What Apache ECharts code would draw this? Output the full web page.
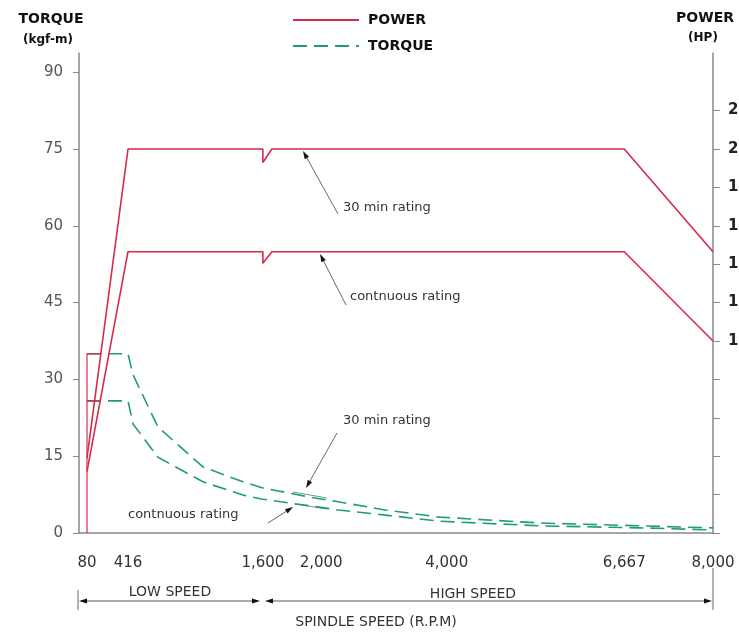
<!DOCTYPE html>
<html><head><meta charset="utf-8">
<script src="https://cdn.jsdelivr.net/npm/echarts@6/dist/echarts.min.js"></script>
<style>html,body{margin:0;padding:0;background:#fff}#c{width:739px;height:632px}</style>
</head><body><div id="c"></div>
<script>
// ---- data ----
const rpmTicks = [80, 416, 1600, 2000, 4000, 6667, 8000];
const rpmTickLabels = ['80', '416', '1,600', '2,000', '4,000', '6,667', '8,000'];
const torqueTicks = [0, 15, 30, 45, 60, 75, 90];
const powerTicks = [0, 2, 4, 6, 8, 10, 12, 14, 16, 18, 20, 22];
const powerLabelTicks = [10, 12, 14, 16, 18, 20, 22];

const power30Rpm = [80, 416, 1600, 1600, 1662, 6667, 8000];
const power30Hp = [3.9, 20.0, 20.0, 19.3, 20.0, 20.0, 14.65];
const powerContRpm = [80, 416, 1600, 1600, 1662, 6667, 8000];
const powerContHp = [3.2, 14.65, 14.65, 14.05, 14.65, 14.65, 10.0];

const torque30Rpm = [80, 416, 460, 679, 1074, 1425, 1600, 1924, 2270, 3016, 3889, 5401, 6907, 8000];
const torque30Kgf = [35, 35, 30.9, 20.7, 12.9, 10.0, 8.8, 7.0, 6.1, 4.5, 3.1, 1.95, 1.4, 1.0];
const torqueContRpm = [80, 416, 460, 679, 1074, 1425, 1600, 1924, 2270, 3016, 3889, 5401, 6907, 8000];
const torqueContKgf = [25.8, 25.8, 21.3, 14.8, 10.0, 7.4, 6.6, 5.3, 4.5, 3.5, 2.3, 1.4, 1.0, 0.6];

const stubARpm = [80, 80, 200];
const stubAKgf = [0, 35, 35];
const stubBRpm = [80, 190];
const stubBKgf = [25.8, 25.8];

// ---- layout: relative positions of the rpm ticks along the (schematic) x axis ----
const xTickFrac = [0.0126, 0.0773, 0.290, 0.382, 0.580, 0.860, 1.0];
function toX(rpm) {
  for (let i = 0; i < rpmTicks.length - 1; i++) {
    if (rpm <= rpmTicks[i + 1]) {
      const t = (rpm - rpmTicks[i]) / (rpmTicks[i + 1] - rpmTicks[i]);
      return xTickFrac[i] + t * (xTickFrac[i + 1] - xTickFrac[i]);
    }
  }
  return 1;
}
const pts = (xs, ys) => xs.map((r, i) => [toX(r), ys[i]]);

const RED = '#d42a4c', GREEN = '#1f9e72';
const FONT = '"DejaVu Sans", sans-serif';

function arrow(x1, y1, x2, y2, color, len, hw) {
  len = len || 8; hw = hw || 2.5;
  const dx = x2 - x1, dy = y2 - y1, d = Math.hypot(dx, dy);
  const ux = dx / d, uy = dy / d;
  const bx = x2 - ux * len, by = y2 - uy * len;
  return [
    { type: 'line', silent: true, shape: { x1, y1, x2: bx, y2: by }, style: { stroke: color, lineWidth: 1 } },
    { type: 'polygon', silent: true, shape: { points: [[x2, y2], [bx - uy * hw, by + ux * hw], [bx + uy * hw, by - ux * hw]] }, style: { fill: '#111' } }
  ];
}
function txt(text, x, y, font, fill, align) {
  return { type: 'text', silent: true, style: { text, x, y, font, fill: fill || '#333', textAlign: align || 'left', textVerticalAlign: 'middle' } };
}

const graphics = [
  txt('TORQUE', 51, 19, 'bold 14px ' + FONT, '#111', 'center'),
  txt('(kgf-m)', 48, 40, 'bold 12px ' + FONT, '#111', 'center'),
  txt('POWER', 705, 18, 'bold 14px ' + FONT, '#111', 'center'),
  txt('(HP)', 703, 38, 'bold 12px ' + FONT, '#111', 'center'),
  txt('30 min rating', 343, 208, '13px ' + FONT, '#333'),
  txt('contnuous rating', 350, 297, '13px ' + FONT, '#333'),
  txt('30 min rating', 343, 421, '13px ' + FONT, '#333'),
  txt('contnuous rating', 128, 515, '13px ' + FONT, '#333'),
  ...arrow(338, 214, 303, 151, '#666'),
  ...arrow(346, 305, 320, 254, '#666'),
  ...arrow(337, 433, 306, 488, '#666'),
  ...arrow(268, 523, 293, 507, '#666'),
  { type: 'line', silent: true, shape: { x1: 293, y1: 492, x2: 327, y2: 498 }, style: { stroke: '#7a9a8a', lineWidth: 1.2 } },
  { type: 'line', silent: true, shape: { x1: 295, y1: 504, x2: 327, y2: 509 }, style: { stroke: '#7a9a8a', lineWidth: 1.2 } },
  // speed range dimension line
  { type: 'line', silent: true, shape: { x1: 78, y1: 590, x2: 78, y2: 610 }, style: { stroke: '#666', lineWidth: 1 } },
  { type: 'line', silent: true, shape: { x1: 713, y1: 568, x2: 713, y2: 610 }, style: { stroke: '#666', lineWidth: 1 } },
  ...arrow(170, 601, 79, 601, '#555'),
  ...arrow(170, 601, 260, 601, '#555'),
  ...arrow(480, 601, 265, 601, '#555'),
  ...arrow(480, 601, 712, 601, '#555'),
  txt('LOW SPEED', 170, 592, '14px ' + FONT, '#333', 'center'),
  txt('HIGH SPEED', 473, 594, '14px ' + FONT, '#333', 'center'),
  txt('SPINDLE SPEED (R.P.M)', 376, 622, '14px ' + FONT, '#333', 'center')
];

const chart = echarts.init(document.getElementById('c'), null, { renderer: 'canvas' });
chart.setOption({
  animation: false,
  backgroundColor: '#fff',
  grid: { left: 79, right: 26, top: 53, bottom: 99, containLabel: false, outerBoundsMode: 'none' },
  legend: {
    data: ['POWER', 'TORQUE'], orient: 'vertical', left: 287, top: 8,
    itemWidth: 66, itemHeight: 14, itemGap: 12, selectedMode: false,
    itemStyle: { opacity: 0 },
    textStyle: { fontWeight: 'bold', fontSize: 14, color: '#111', fontFamily: FONT, padding: [0, 0, 0, 4] }
  },
  xAxis: {
    type: 'value', min: 0, max: 1,
    axisLine: { show: true, lineStyle: { color: '#888', width: 1.5 } },
    axisTick: { show: false }, splitLine: { show: false },
    axisLabel: {
      customValues: xTickFrac,
      formatter: v => {
        let best = 0;
        xTickFrac.forEach((p, i) => { if (Math.abs(p - v) < Math.abs(xTickFrac[best] - v)) best = i; });
        return rpmTickLabels[best];
      },
      fontSize: 15, color: '#333', fontFamily: FONT, margin: 23
    }
  },
  yAxis: [
    {
      type: 'value', min: 0, max: 93.75, position: 'left',
      axisLine: { show: true, lineStyle: { color: '#888', width: 1.5 } },
      axisTick: { show: true, length: 6, customValues: torqueTicks, lineStyle: { color: '#888' } },
      axisLabel: { customValues: torqueTicks, fontSize: 15, color: '#555', fontFamily: FONT, margin: 16 },
      splitLine: { show: false }
    },
    {
      type: 'value', min: 0, max: 25, position: 'right',
      axisLine: { show: true, lineStyle: { color: '#888', width: 1.5 } },
      axisTick: { show: true, length: 7, customValues: powerTicks, lineStyle: { color: '#888' } },
      axisLabel: { customValues: powerLabelTicks, fontSize: 15, fontWeight: 'bold', color: '#222', fontFamily: FONT, margin: 15 },
      splitLine: { show: false }
    }
  ],
  series: [
    { name: 'TORQUE', type: 'line', yAxisIndex: 0, symbol: 'none', z: 2, color: GREEN,
      lineStyle: { color: GREEN, width: 1.6, type: [14, 7] }, data: pts(torque30Rpm, torque30Kgf) },
    { name: 'TORQUE', type: 'line', yAxisIndex: 0, symbol: 'none', z: 2, color: GREEN,
      lineStyle: { color: GREEN, width: 1.6, type: [14, 7] }, data: pts(torqueContRpm, torqueContKgf) },
    { name: 'POWER', type: 'line', yAxisIndex: 1, symbol: 'none', z: 3, color: RED,
      lineStyle: { color: RED, width: 1.6 }, data: pts(power30Rpm, power30Hp) },
    { name: 'POWER', type: 'line', yAxisIndex: 1, symbol: 'none', z: 3, color: RED,
      lineStyle: { color: RED, width: 1.6 }, data: pts(powerContRpm, powerContHp) },
    { name: 'stubA', type: 'line', yAxisIndex: 0, symbol: 'none', z: 3, silent: true,
      lineStyle: { color: RED, width: 1.2 }, data: pts(stubARpm, stubAKgf) },
    { name: 'stubB', type: 'line', yAxisIndex: 0, symbol: 'none', z: 3, silent: true,
      lineStyle: { color: RED, width: 1.2 }, data: pts(stubBRpm, stubBKgf) }
  ],
  graphic: graphics
});
</script></body></html>
